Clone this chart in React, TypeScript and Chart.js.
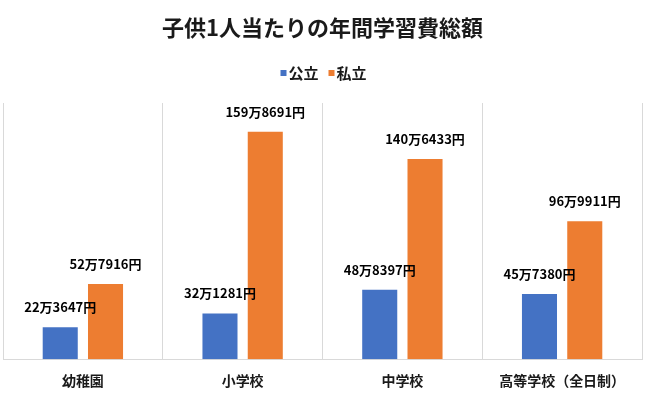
import React, { useEffect, useRef } from "react";
import { Chart, registerables } from "chart.js";

Chart.register(...registerables);

const categories = ["幼稚園", "小学校", "中学校", "高等学校（全日制）"];
const publicValues = [223647, 321281, 488397, 457380];
const privateValues = [527916, 1598691, 1406433, 969911];
const seriesNames = ["公立", "私立"];
const seriesColors = ["#4472C4", "#ED7D31"];
const chartTitle = "子供1人当たりの年間学習費総額";

const FONT = "'Noto Sans CJK JP', 'Noto Sans', sans-serif";

function formatYen(v: number): string {
  const man = Math.floor(v / 10000);
  const rest = v % 10000;
  return `${man}万${rest}円`;
}

const labelPlugin = {
  id: "barLabels",
  afterDatasetsDraw(chart: any) {
    const ctx = chart.ctx;
    ctx.save();
    ctx.font = `bold 13px ${FONT}`;
    ctx.fillStyle = "#000000";
    ctx.textAlign = "center";
    ctx.textBaseline = "middle";
    chart.data.datasets.forEach((ds: any, di: number) => {
      const meta = chart.getDatasetMeta(di);
      meta.data.forEach((bar: any, i: number) => {
        ctx.fillText(formatYen(ds.data[i]), bar.x, bar.y - 20);
      });
    });
    ctx.restore();
  },
};

// Compact legend (small square with text right next to it), centered under the title
const customLegend = {
  id: "customLegend",
  afterDraw(chart: any) {
    const ctx = chart.ctx;
    ctx.save();
    ctx.font = `bold 15px ${FONT}`;
    ctx.textBaseline = "middle";
    ctx.textAlign = "left";
    const box = 6;
    const gapBoxText = 2;
    const gapItems = 10;
    const items = chart.data.datasets.map((ds: any) => ({
      label: ds.label,
      color: ds.backgroundColor,
      w: ctx.measureText(ds.label).width,
    }));
    const total =
      items.reduce((s: number, it: any) => s + box + gapBoxText + it.w, 0) +
      gapItems * (items.length - 1);
    let x = chart.width / 2 - total / 2;
    const y = 73;
    items.forEach((it: any) => {
      ctx.fillStyle = it.color;
      ctx.fillRect(x, y - box / 2, box, box);
      x += box + gapBoxText;
      ctx.fillStyle = "#1a1a1a";
      ctx.fillText(it.label, x, y);
      x += it.w + gapItems;
    });
    ctx.restore();
  },
};

export default function App() {
  const ref = useRef<HTMLCanvasElement | null>(null);
  useEffect(() => {
    document.body.style.margin = "0";
    const chart = new Chart(ref.current!, {
      type: "bar",
      data: {
        labels: categories,
        datasets: [
          {
            label: seriesNames[0],
            data: publicValues,
            backgroundColor: seriesColors[0],
            barPercentage: 0.774,
            categoryPercentage: 0.567,
          },
          {
            label: seriesNames[1],
            data: privateValues,
            backgroundColor: seriesColors[1],
            barPercentage: 0.774,
            categoryPercentage: 0.567,
          },
        ],
      },
      options: {
        animation: false,
        responsive: false,
        layout: { padding: { left: 3, right: 5, top: 0, bottom: -8 } },
        plugins: {
          title: {
            display: true,
            text: chartTitle,
            color: "#1a1a1a",
            font: { family: FONT, size: 22, weight: "bold" },
            padding: { top: 14, bottom: 62.6 },
          },
          legend: { display: false },
          tooltip: { enabled: false },
        },
        scales: {
          x: {
            grid: { offset: true, color: "#d9d9d9", drawTicks: false },
            border: { color: "#d9d9d9" },
            ticks: {
              padding: 13,
              color: "#1a1a1a",
              font: { family: FONT, size: 14, weight: "bold" },
            },
          },
          y: {
            display: false,
            min: 0,
            max: 1800000,
          },
        },
      },
      plugins: [labelPlugin, customLegend],
    });
    return () => chart.destroy();
  }, []);
  return (
    <div style={{ width: 647, height: 394 }}>
      <canvas ref={ref} width={647} height={394} />
    </div>
  );
}
